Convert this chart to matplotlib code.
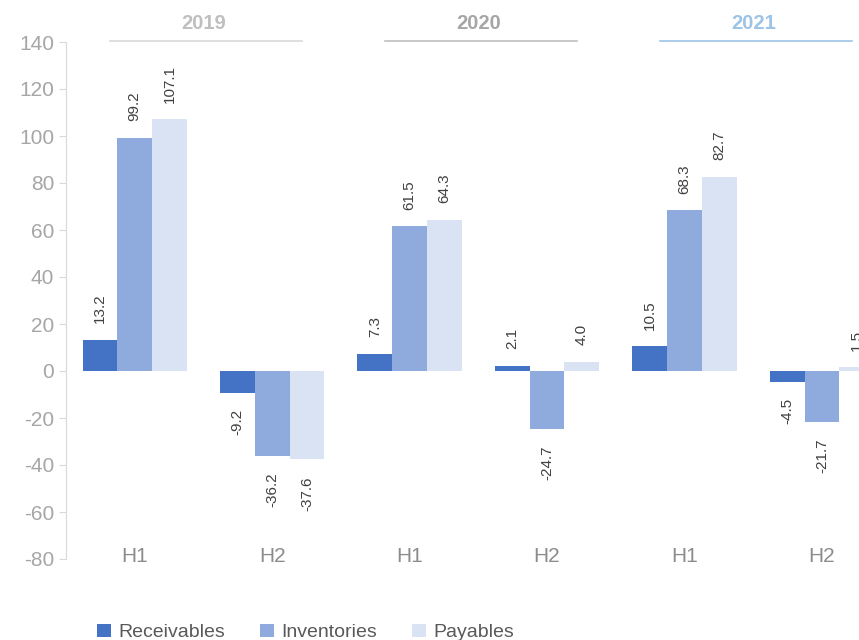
import matplotlib
matplotlib.use("Agg")
import matplotlib.pyplot as plt
import numpy as np

# Daten
categories = ["H1", "H2", "H1", "H2", "H1", "H2"]
years = ["2019", "2020", "2021"]
receivables = [13.2, -9.2, 7.3, 2.1, 10.5, -4.5]
inventories = [99.2, -36.2, 61.5, -24.7, 68.3, -21.7]
payables = [107.1, -37.6, 64.3, 4.0, 82.7, 1.5]
series_names = ["Receivables", "Inventories", "Payables"]

colors = ["#4472C4", "#8FAADC", "#DAE3F3"]
year_colors = ["#BFBFBF", "#A6A6A6", "#9DC3E6"]
line_colors = ["#D9D9D9", "#BFBFBF", "#9DC3E6"]

plt.rcParams["font.family"] = ["Liberation Sans", "DejaVu Sans"]
plt.rcParams["axes.unicode_minus"] = False

fig = plt.figure(figsize=(8.59, 6.4), dpi=100)
ax = fig.add_axes([66 / 859, 1 - 559 / 640, 1 - 66 / 859, (559 - 42) / 640])

x = np.arange(len(categories))
w = 0.253
for i, (vals, name) in enumerate(zip([receivables, inventories, payables], series_names)):
    pos = x + (i - 1) * w
    ax.bar(pos, vals, w, color=colors[i], label=name, zorder=2)
    for xp, v in zip(pos, vals):
        txt = f"{v:.1f}"
        off = 12 if v >= 0 else -12
        ax.annotate(txt, (xp, v), xytext=(0, off), textcoords="offset points",
                    rotation=90, ha="center", va="bottom" if v >= 0 else "top",
                    fontsize=11, color="#404040", annotation_clip=False)

ax.set_xlim(-0.5, 5.27)
ax.set_ylim(-80, 140)
ax.set_yticks(np.arange(-80, 141, 20))
ax.set_xticks(x)
ax.set_xticklabels(categories)
ax.tick_params(axis="y", colors="#D9D9D9", labelcolor="#A6A6A6", labelsize=15, length=5)
ax.tick_params(axis="x", length=0, labelcolor="#8C8C8C", labelsize=15, pad=-9)
for s in ["top", "right", "bottom"]:
    ax.spines[s].set_visible(False)
ax.spines["left"].set_color("#D9D9D9")

# Jahresbeschriftungen mit Linien
for j, yr in enumerate(years):
    c = 2 * j + 0.5
    ax.plot([c - 0.68, c + 0.72], [140.5, 140.5], color=line_colors[j], lw=1.2,
            clip_on=False, zorder=3)
    ax.text(c, 144, yr, ha="center", va="bottom", fontsize=14.5, fontweight="bold",
            color=year_colors[j], clip_on=False)

leg = fig.legend(loc="center", bbox_to_anchor=(0.356, 0.012), ncol=3, frameon=False,
                 fontsize=14, handlelength=0.7, handleheight=0.7, columnspacing=1.8,
                 handletextpad=0.4)
for t in leg.get_texts():
    t.set_color("#595959")

fig.savefig("out.png", dpi=100)
